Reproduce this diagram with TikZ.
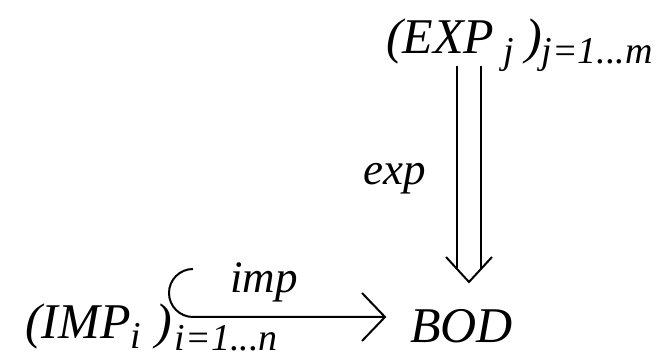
\documentclass[tikz,border=0pt]{standalone}
\usepackage{fontspec}
\setmainfont{Liberation Serif}
\usetikzlibrary{calc}
\newcommand{\mysub}[2][-11pt]{\raisebox{#1}{\fontsize{38}{40}\selectfont #2}}
\tikzset{
  maintext/.style={font=\fontsize{50}{60}\selectfont\itshape, inner sep=0pt, anchor=base west},
  lbltext/.style={font=\fontsize{45}{54}\selectfont\itshape, inner sep=0pt, anchor=base west},
  conn/.style={line width=2pt, line cap=butt, line join=miter},
}
\begin{document}
\begin{tikzpicture}[x=1pt,y=1pt]
\useasboundingbox (0,0) rectangle (657,355);
% texts
\node[maintext] (imp) at (25,16) {(IMP\mysub[-10pt]{i}\hspace{14pt})\hspace{3pt}\mysub[-12pt]{i=1...n}};
\node[maintext] (bod) at (410,12) {BOD};
\node[maintext] (exp) at (386,301) {(EXP\hspace{9pt}\mysub[-10pt]{j}\hspace{11pt})\mysub[-10pt]{j=1...m}};
\node[lbltext] (implbl) at (230,62) {imp};
\node[lbltext] (explbl) at (363,170) {exp};
% hooked arrow imp
\coordinate (hook) at (193,86);
\coordinate (imptip) at (385,38);
\draw[conn] (hook) arc[start angle=90,end angle=270,radius=24] -- (imptip);
\draw[conn] ($(imptip)+(-23,24)$) -- (imptip) -- ($(imptip)+(-23,-24)$);
% double arrow exp
\coordinate (expfrom) at (469,289);
\coordinate (exptip) at (469,73);
\draw[conn] ($(expfrom)+(-12,0)$) -- ($(exptip)+(-12,13)$);
\draw[conn] ($(expfrom)+(12,0)$) -- ($(exptip)+(12,13)$);
\draw[conn] ($(exptip)+(-23,25)$) -- (exptip) -- ($(exptip)+(23,25)$);
\end{tikzpicture}
\end{document}
